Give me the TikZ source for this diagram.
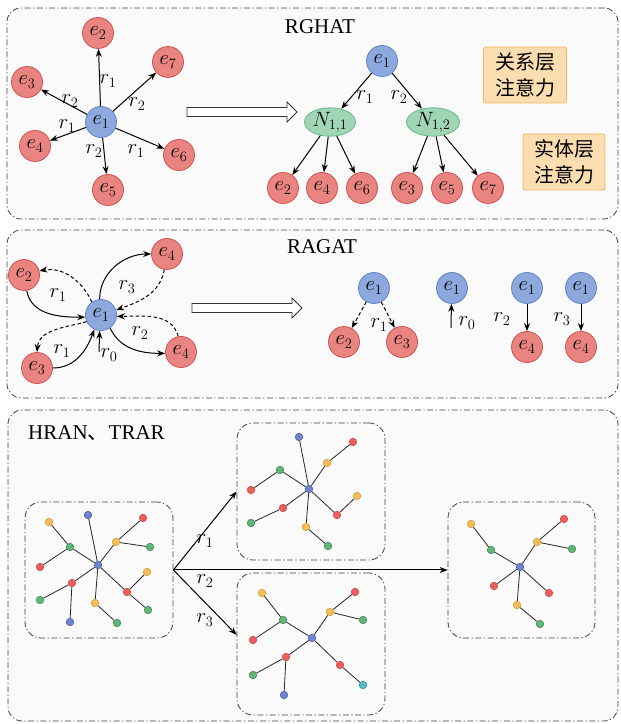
\documentclass[tikz,border=0pt]{standalone}
\usepackage{fontspec}
\setmainfont{Liberation Serif}
\newfontfamily\cjk{Noto Sans CJK SC}
\usetikzlibrary{arrows.meta}
\usetikzlibrary{shapes.geometric}

\definecolor{entFill}{RGB}{234,132,128}
\definecolor{entLine}{RGB}{208,82,80}
\definecolor{ctrFill}{RGB}{140,168,220}
\definecolor{ctrLine}{RGB}{100,132,200}
\definecolor{grpFill}{RGB}{160,214,182}
\definecolor{grpLine}{RGB}{100,184,136}
\definecolor{noteFill}{RGB}{251,221,176}
\definecolor{noteLine}{RGB}{242,182,92}
\definecolor{dotRed}{RGB}{232,96,92}
\definecolor{dotGreen}{RGB}{96,184,120}
\definecolor{dotYellow}{RGB}{246,190,84}
\definecolor{dotBlue}{RGB}{112,132,212}
\definecolor{dotTeal}{RGB}{84,188,196}

\begin{document}
\begin{tikzpicture}[x=1pt, y=1pt,
    ent/.style={circle, draw=entLine, fill=entFill, line width=0.8pt,
      minimum size=31pt, inner sep=0pt, font=\fontsize{20.74}{22}\selectfont},
    ctr/.style={ent, draw=ctrLine, fill=ctrFill},
    grp/.style={ellipse, draw=grpLine, fill=grpFill, line width=0.8pt,
      minimum width=51pt, minimum height=25pt, inner sep=0pt,
      font=\fontsize{20.74}{22}\selectfont},
    note/.style={draw=noteLine, fill=noteFill, line width=0.8pt,
      rounded corners=2pt, minimum width=83pt, minimum height=56pt,
      inner sep=0pt, align=center, font=\cjk\fontsize{20}{26}\selectfont},
    panel/.style={draw=black!75, line width=0.8pt, fill=black!2, inner sep=0pt,
      dash pattern=on 6pt off 2.5pt on 1.2pt off 2.5pt, rounded corners=14pt},
    frame/.style={panel, fill=none, rounded corners=16pt},
    hollow/.style={draw=black!80, fill=white, line width=0.8pt, line join=miter},
    rel/.style={line width=1pt, -{Stealth[length=8pt, width=6pt]}},
    relD/.style={rel, dash pattern=on 3.5pt off 2.5pt},
    lbl/.style={inner sep=0pt, font=\fontsize{20.74}{22}\selectfont},
    ttl/.style={inner sep=0pt, font=\fontsize{21}{24}\selectfont},
    dot/.style={circle, inner sep=0pt, minimum size=7.5pt, line width=0.7pt},
    dR/.style={dot, draw=entLine, fill=dotRed},
    dG/.style={dot, draw=dotGreen!75!black, fill=dotGreen},
    dY/.style={dot, draw=dotYellow!85!black, fill=dotYellow},
    dB/.style={dot, draw=dotBlue!75!black, fill=dotBlue},
    dT/.style={dot, draw=dotTeal!75!black, fill=dotTeal},
    lnk/.style={line width=0.8pt, black!85}]

\useasboundingbox (0,0) rectangle (621,724);

% 三个大框
\node[panel, minimum width=611pt, minimum height=211pt] (P1) at (312.5,610.5) {};
\node[panel, minimum width=611pt, minimum height=168pt] (P2) at (312.5,410) {};
\node[panel, minimum width=610pt, minimum height=311pt] (P3) at (313,158.5) {};

% ---------- RGHAT ----------
\node[ttl] (rghat) at (320,697) {RGHAT};

\node[ctr] (s1) at (101,602) {$e_1$};
\node[ent] (s2) at (98,691) {$e_2$};
\node[ent] (s3) at (27,642) {$e_3$};
\node[ent] (s4) at (35,578) {$e_4$};
\node[ent] (s5) at (108,534) {$e_5$};
\node[ent] (s6) at (179,569) {$e_6$};
\node[ent] (s7) at (168,662) {$e_7$};

\draw[rel] (s1) -- (s2);
\draw[rel] (s1) -- (s3);
\draw[rel] (s1) -- (s4);
\draw[rel] (s1) -- (s5);
\draw[rel] (s1) -- (s6);
\draw[rel] (s1) -- (s7);

\node[lbl] (ls2) at (108,643) {$r_1$};
\node[lbl] (ls3) at (70,623) {$r_2$};
\node[lbl] (ls7) at (137,620) {$r_2$};
\node[lbl] (ls4) at (67,598) {$r_1$};
\node[lbl] (ls5) at (94,573) {$r_2$};
\node[lbl] (ls6) at (136,573) {$r_1$};

% 空心箭头
\draw[hollow] (187,607.5) -- (287,607.5) -- (287,602) -- (297,612)
  -- (287,622) -- (287,616.5) -- (187,616.5) -- cycle;

\node[ctr] (t1) at (382,663) {$e_1$};
\node[grp] (n11) at (330,602) {$N_{1,1}$};
\node[grp, minimum width=53pt] (n12) at (433,602) {$N_{1,2}$};
\node[ent] (t2) at (283,536) {$e_2$};
\node[ent] (t4) at (322,536) {$e_4$};
\node[ent] (t6) at (362,536) {$e_6$};
\node[ent] (t3) at (407,536) {$e_3$};
\node[ent] (t5) at (447,536) {$e_5$};
\node[ent] (t7) at (488,536) {$e_7$};

\draw[rel] (t1) -- (n11);
\draw[rel] (t1) -- (n12);
\draw[rel] (n11) -- (t2);
\draw[rel] (n11) -- (t4);
\draw[rel] (n11) -- (t6);
\draw[rel] (n12) -- (t3);
\draw[rel] (n12) -- (t5);
\draw[rel] (n12) -- (t7);

\node[lbl] (lt1) at (365,627) {$r_1$};
\node[lbl] (lt2) at (399,627) {$r_2$};

\node[note] (att1) at (525,649) {关系层\\注意力};
\node[note, minimum width=82pt] (att2) at (564,562) {实体层\\注意力};

% ---------- RAGAT ----------
\node[ttl] (ragat) at (322,477) {RAGAT};

\node[ctr] (g1) at (101,409) {$e_1$};
\node[ent] (g2) at (24,449) {$e_2$};
\node[ent] (g3) at (37,356) {$e_3$};
\node[ent] (g4a) at (167,470) {$e_4$};
\node[ent] (g4b) at (181,372) {$e_4$};
\coordinate (g0) at (99,372);

\draw[rel] (g2.-80) to[out=-80, in=180] (g1.188);
\draw[relD] (g1.125) to[out=115, in=10] (g2.15);
\draw[relD] (g1.205) to[out=195, in=85] (g3.90);
\draw[rel] (g3.0) to[out=0, in=-110] (g1.-115);
\draw[rel] (g1.95) to[out=90, in=180] (g4a.180);
\draw[relD] (g4a.-100) to[out=-100, in=20] (g1.18);
\draw[rel] (g1.-55) to[out=-65, in=180] (g4b.185);
\draw[relD] (g4b.100) to[out=105, in=0] (g1.-5);
\draw[rel] (g0) -- (g1.-95);

\node[lbl] (lg2) at (58,429) {$r_1$};
\node[lbl] (lg3) at (62,373) {$r_1$};
\node[lbl] (lg4a) at (127,437) {$r_3$};
\node[lbl] (lg4b) at (140,391) {$r_2$};
\node[lbl] (lg0) at (109,369) {$r_0$};

\draw[hollow] (192,411.5) -- (292,411.5) -- (292,406) -- (302,416)
  -- (292,426) -- (292,420.5) -- (192,420.5) -- cycle;

\node[ctr] (h1a) at (374,436) {$e_1$};
\node[ent] (h2) at (344,382) {$e_2$};
\node[ent] (h3) at (402,382) {$e_3$};
\draw[relD] (h1a) -- (h2);
\draw[relD] (h1a) -- (h3);
\node[lbl] (lh1) at (379,399) {$r_1$};

\node[ctr] (h1b) at (452,436) {$e_1$};
\coordinate (h0) at (451,396);
\draw[rel] (h0) -- (h1b.-92);
\node[lbl] (lh0) at (467,401) {$r_0$};

\node[ctr] (h1c) at (527,436) {$e_1$};
\node[ent] (h4c) at (527,377) {$e_4$};
\draw[rel] (h1c) -- (h4c);
\node[lbl] (lh2) at (502,405) {$r_2$};

\node[ctr] (h1d) at (581,436) {$e_1$};
\node[ent] (h4d) at (581,377) {$e_4$};
\draw[rel] (h1d) -- (h4d);
\node[lbl] (lh3) at (562,405) {$r_3$};

% ---------- HRAN、TRAR ----------
\node[ttl, anchor=west] (hran) at (28,291) {HRAN{\cjk 、}TRAR};

\node[frame, minimum width=148pt, minimum height=136pt] (G1) at (99,154) {};
\node[frame, minimum width=148pt, minimum height=137pt] (G2) at (311,232.5) {};
\node[frame, minimum width=148pt, minimum height=142pt] (G3) at (311,80) {};
\node[frame, minimum width=147pt, minimum height=136pt] (G4) at (521.5,154) {};

\draw[rel] (G1.east) -- (G2.west);
\draw[rel] (G1.east) -- (G4.west);
\draw[rel] (G1.east) -- (G3.173);

\node[lbl] (lG2) at (205,183) {$r_1$};
\node[lbl] (lG4) at (205,143) {$r_2$};
\node[lbl] (lG3) at (205,104) {$r_3$};

% 左图
\node[dB] (A0) at (98,159) {};
\node[dB] (A1) at (88,209) {};
\node[dY] (A2) at (49,202) {};
\node[dG] (A3) at (70,177) {};
\node[dR] (A4) at (40,157) {};
\node[dR] (A5) at (143,206) {};
\node[dY] (A6) at (116,182) {};
\node[dG] (A7) at (150,177) {};
\node[dY] (A8) at (147,152) {};
\node[dR] (A9) at (127,132) {};
\node[dG] (A10) at (148,114) {};
\node[dR] (A11) at (72,141) {};
\node[dG] (A12) at (40,124) {};
\node[dB] (A13) at (70,102) {};
\node[dY] (A14) at (95,121) {};
\node[dG] (A15) at (117,101) {};

\draw[lnk] (A0) -- (A1);
\draw[lnk] (A0) -- (A3);
\draw[lnk] (A3) -- (A2);
\draw[lnk] (A3) -- (A4);
\draw[lnk] (A0) -- (A6);
\draw[lnk] (A6) -- (A5);
\draw[lnk] (A6) -- (A7);
\draw[lnk] (A0) -- (A9);
\draw[lnk] (A9) -- (A8);
\draw[lnk] (A9) -- (A10);
\draw[lnk] (A0) -- (A11);
\draw[lnk] (A11) -- (A12);
\draw[lnk] (A11) -- (A13);
\draw[lnk] (A0) -- (A14);
\draw[lnk] (A14) -- (A15);

% 上图
\node[dB] (B0) at (309,235) {};
\node[dB] (B1) at (299,287) {};
\node[dY] (B2) at (327,261) {};
\node[dR] (B3) at (353,282) {};
\node[dG] (B4) at (280,254) {};
\node[dR] (B5) at (251,234) {};
\node[dR] (B6) at (283,216) {};
\node[dG] (B7) at (251,201) {};
\node[dR] (B8) at (337,209) {};
\node[dY] (B9) at (357,228) {};
\node[dY] (B10) at (306,197) {};
\node[dG] (B11) at (328,178) {};

\draw[lnk] (B0) -- (B1);
\draw[lnk] (B0) -- (B2);
\draw[lnk] (B2) -- (B3);
\draw[lnk] (B0) -- (B4);
\draw[lnk] (B4) -- (B5);
\draw[lnk] (B0) -- (B6);
\draw[lnk] (B6) -- (B7);
\draw[lnk] (B0) -- (B8);
\draw[lnk] (B8) -- (B9);
\draw[lnk] (B0) -- (B10);
\draw[lnk] (B10) -- (B11);

% 下图
\node[dB] (C0) at (312,86) {};
\node[dG] (C1) at (283,104) {};
\node[dY] (C2) at (262,131) {};
\node[dR] (C3) at (253,84) {};
\node[dY] (C4) at (330,112) {};
\node[dR] (C5) at (355,132) {};
\node[dG] (C6) at (363,104) {};
\node[dR] (C7) at (286,67) {};
\node[dG] (C8) at (253,49) {};
\node[dB] (C9) at (284,29) {};
\node[dR] (C10) at (340,59) {};
\node[dT] (C11) at (363,39) {};

\draw[lnk] (C0) -- (C1);
\draw[lnk] (C1) -- (C2);
\draw[lnk] (C1) -- (C3);
\draw[lnk] (C0) -- (C4);
\draw[lnk] (C4) -- (C5);
\draw[lnk] (C4) -- (C6);
\draw[lnk] (C0) -- (C7);
\draw[lnk] (C7) -- (C8);
\draw[lnk] (C7) -- (C9);
\draw[lnk] (C0) -- (C10);
\draw[lnk] (C10) -- (C11);

% 右图
\node[dB] (D0) at (520,157) {};
\node[dG] (D1) at (491,174) {};
\node[dY] (D2) at (471,200) {};
\node[dY] (D3) at (537,182) {};
\node[dR] (D4) at (564,205) {};
\node[dG] (D5) at (572,175) {};
\node[dR] (D6) at (494,138) {};
\node[dR] (D7) at (549,131) {};
\node[dY] (D8) at (517,119) {};
\node[dG] (D9) at (540,100) {};

\draw[lnk] (D0) -- (D1);
\draw[lnk] (D1) -- (D2);
\draw[lnk] (D0) -- (D3);
\draw[lnk] (D3) -- (D4);
\draw[lnk] (D3) -- (D5);
\draw[lnk] (D0) -- (D6);
\draw[lnk] (D0) -- (D7);
\draw[lnk] (D0) -- (D8);
\draw[lnk] (D8) -- (D9);

\end{tikzpicture}
\end{document}
